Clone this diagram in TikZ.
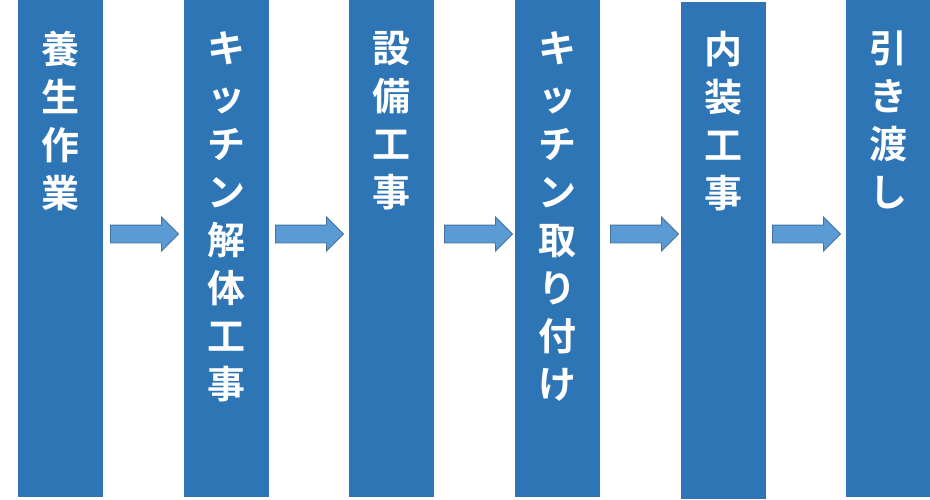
\documentclass[tikz,border=0pt]{standalone}
\usepackage{fontspec}
\newfontfamily\jpfont{Noto Sans CJK JP Bold}
\usetikzlibrary{shapes.arrows}
\definecolor{colblue}{HTML}{2E75B6}
\definecolor{arrblue}{HTML}{5B9BD5}
\definecolor{arredge}{HTML}{41719C}
\tikzset{
	stepcol/.style={fill=colblue, draw=none, minimum width=85pt, minimum height=497pt, anchor=north, inner sep=0pt},
	steptext/.style={anchor=north, text=white, align=center, inner sep=0pt, font=\jpfont\fontsize{38pt}{48pt}\selectfont},
	steparrow/.style={single arrow, fill=arrblue, draw=arredge, line width=0.8pt, minimum width=33pt, minimum height=68pt, single arrow head extend=8pt, inner xsep=0pt, inner ysep=8.5pt}
}
\begin{document}
\begin{tikzpicture}[x=1pt,y=-1pt]
		\useasboundingbox (0,0) rectangle (930,499);
		\node[stepcol] (c1) at (60.5,0) {};
		\node[stepcol] (c2) at (226,0) {};
		\node[stepcol] (c3) at (391.5,0) {};
		\node[stepcol] (c4) at (557.5,0) {};
		\node[stepcol] (c5) at (723,2) {};
		\node[stepcol] (c6) at (888,0) {};
		
		\node[steptext] (t1) at (60.5,31) {養\\生\\作\\業};
		\node[steptext] (t2) at (226,31) {キ\\ッ\\チ\\ン\\解\\体\\工\\事};
		\node[steptext] (t3) at (391.5,31) {設\\備\\工\\事};
		\node[steptext] (t4) at (557.5,31) {キ\\ッ\\チ\\ン\\取\\り\\付\\け};
		\node[steptext] (t5) at (723,31) {内\\装\\工\\事};
		\node[steptext] (t6) at (888,31) {引\\き\\渡\\し};
		
		\node[steparrow] (a1) at (140,234) {};
		\node[steparrow] (a2) at (305,234) {};
		\node[steparrow] (a3) at (474,234) {};
		\node[steparrow] (a4) at (640,234) {};
		\node[steparrow] (a5) at (802,234) {};
\end{tikzpicture}
\end{document}
